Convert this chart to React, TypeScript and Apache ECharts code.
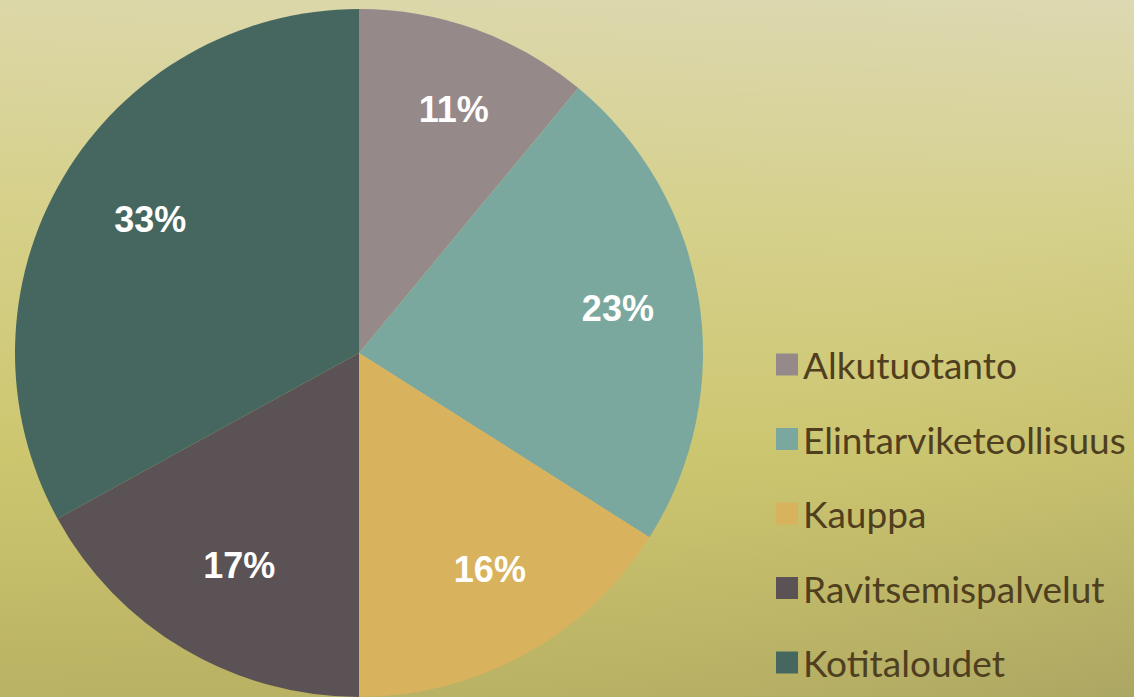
import React, { useEffect, useRef } from "react";
import * as echarts from "echarts";

const categories = ["Alkutuotanto", "Elintarviketeollisuus", "Kauppa", "Ravitsemispalvelut", "Kotitaloudet"];
const shares = [11, 23, 16, 17, 33];
const colors = ["#958a89", "#7ba89e", "#d9b25d", "#5b5256", "#46675f"];

export default function App() {
  const ref = useRef<HTMLDivElement>(null);
  useEffect(() => {
    if (!ref.current) return;
    const chart = echarts.init(ref.current, undefined, { renderer: "svg" });
    const data = categories.map((name, i) => ({ name, value: shares[i], itemStyle: { color: colors[i] } }));
    chart.setOption({
      animation: false,
      backgroundColor: {
        type: "linear",
        x: 0, y: 0, x2: 0, y2: 1,
        colorStops: [
          { offset: 0, color: "#ddd9b3" },
          { offset: 0.3, color: "#d6d18e" },
          { offset: 0.65, color: "#cdc670" },
          { offset: 1, color: "#b9b163" },
        ],
      },
      graphic: [
        {
          type: "rect",
          silent: true,
          z: -10,
          shape: { x: 0, y: 0, width: 1134, height: 697 },
          style: {
            fill: {
              type: "linear",
              x: 0, y: 0, x2: 1, y2: 1,
              colorStops: [
                { offset: 0, color: "rgba(215,205,100,0.15)" },
                { offset: 0.6, color: "rgba(200,195,110,0)" },
                { offset: 1, color: "rgba(140,140,100,0.3)" },
              ],
            },
          },
        },
      ],
      legend: {
        orient: "vertical",
        left: 771,
        top: 341,
        bottom: 0,
        itemWidth: 22,
        itemHeight: 22,
        itemGap: 37.5,
        icon: "rect",
        data: categories,
        textStyle: {
          fontFamily: "Lato",
          fontSize: 37,
          color: "#4f3f1f",
        },
      },
      series: [
        {
          type: "pie",
          center: [359, 353],
          radius: [0, 344],
          startAngle: 90,
          clockwise: true,
          label: { show: false },
          labelLine: { show: false },
          silent: true,
          data,
        },
        {
          type: "pie",
          center: [359, 353],
          radius: [156, 344],
          startAngle: 90,
          clockwise: true,
          silent: true,
          itemStyle: { color: "rgba(0,0,0,0)" },
          label: {
            show: true,
            position: "inside",
            formatter: "{c}%",
            color: "#ffffff",
            fontFamily: "Liberation Sans",
            fontWeight: "bold",
            fontSize: 36,
            offset: [9, -5],
          },
          labelLine: { show: false },
          data: categories.map((name, i) => ({ name, value: shares[i], itemStyle: { color: "rgba(0,0,0,0)" } })),
        },
      ],
    });
    return () => chart.dispose();
  }, []);
  return <div ref={ref} style={{ position: "fixed", left: 0, top: 0, width: 1134, height: 697 }} />;
}
